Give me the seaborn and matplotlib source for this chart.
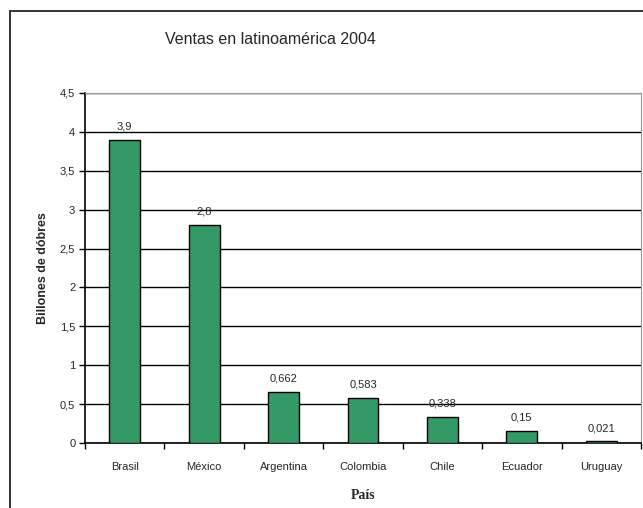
import matplotlib
matplotlib.use('Agg')
import matplotlib.pyplot as plt
import seaborn as sns
import pandas as pd
import numpy as np
from matplotlib.patches import Rectangle
from matplotlib.ticker import FuncFormatter, MultipleLocator, FixedLocator

# datos
paises = ['Brasil', 'México', 'Argentina', 'Colombia', 'Chile', 'Ecuador', 'Uruguay']
ventas = [3.9, 2.8, 0.662, 0.583, 0.338, 0.15, 0.021]
etiquetas = ['3,9', '2,8', '0,662', '0,583', '0,338', '0,15', '0,021']

df = pd.DataFrame({'pais': paises, 'ventas': ventas})

sns.set_style('white')
plt.rcParams['font.family'] = ['Liberation Sans', 'DejaVu Sans']

fig = plt.figure(figsize=(6.43, 5.08), dpi=100)
W, H = 643, 508

# marco exterior del grafico
fig.patches.append(Rectangle((10 / W, -0.1), 1.1, 1 - 11.5 / H + 0.1,
                             transform=fig.transFigure, fill=False,
                             edgecolor='#333333', lw=1.4))

ax = fig.add_axes([85 / W, (H - 443) / H, 556 / W, 350 / H])
sns.barplot(data=df, x='pais', y='ventas', color='#339966', width=0.39,
            edgecolor='black', linewidth=1, saturation=1, ax=ax, zorder=3)

ax.set_ylim(0, 4.5)
ax.set_xlim(-0.5, 6.5)
ax.yaxis.set_major_locator(MultipleLocator(0.5))
ax.yaxis.set_major_formatter(FuncFormatter(
    lambda v, p: ('%g' % v).replace('.', ',')))
ax.grid(axis='y', color='black', lw=1, zorder=0)
ax.grid(axis='x', visible=False)

for s in ['left', 'bottom']:
    ax.spines[s].set_color('black')
    ax.spines[s].set_linewidth(1.2)
for s in ['top', 'right']:
    ax.spines[s].set_color('#999999')
    ax.spines[s].set_linewidth(0.8)

ax.tick_params(axis='y', which='major', length=4, width=1, color='black',
               labelsize=8, pad=3, left=True)
ax.tick_params(axis='x', which='major', length=0, labelsize=8, pad=14)
ax.xaxis.set_minor_locator(FixedLocator(np.arange(-0.5, 7, 1)))
ax.tick_params(axis='x', which='minor', length=4, width=1, color='black',
               bottom=True)

for i, (v, t) in enumerate(zip(ventas, etiquetas)):
    ax.annotate(t, (i, v), xytext=(0, 6), textcoords='offset points',
                ha='center', va='bottom', fontsize=8)

ax.set_xlabel('País', fontsize=10, fontweight='bold',
              family=['Liberation Serif', 'DejaVu Serif'], labelpad=12)
ax.set_ylabel('Billones de dóbres', fontsize=9, fontweight='bold', labelpad=8)

fig.text(270 / W, 1 - 40 / H, 'Ventas en latinoamérica 2004', ha='center', va='center',
         fontsize=11.5)

plt.savefig('out.png', dpi=100)
